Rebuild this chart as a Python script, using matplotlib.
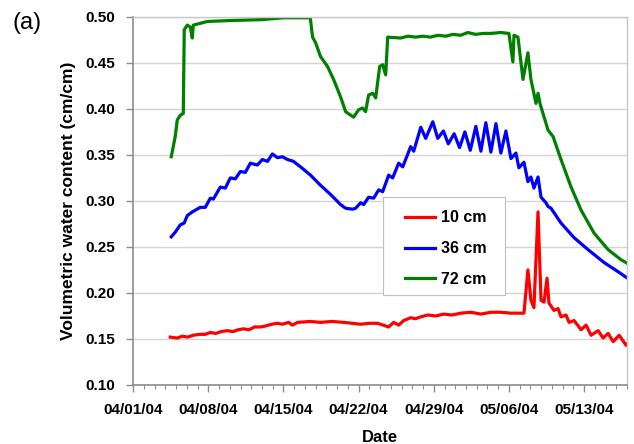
#!/usr/bin/env python

from datetime import datetime, timedelta
import matplotlib
matplotlib.use('Agg')
import matplotlib.pyplot as plt
import matplotlib.dates as mdates
from matplotlib.patches import Rectangle

START = datetime(2004, 4, 1)

# days after 04/01/04 and water content for each sensor depth
DAYS_10 = [3.45, 4.11, 4.6, 5.1, 5.6, 6.2, 6.7, 7.19, 7.7, 8.2, 8.77, 9.3, 9.8,
           10.27, 10.8, 11.3, 11.85, 12.3, 12.9, 13.44, 13.9, 14.47, 14.84,
           15.31, 16.5, 17.45, 18.5, 19.6, 20.4, 21.19, 22.0, 22.77, 23.3,
           23.8, 24.27, 24.73, 25.2, 25.85, 26.3, 26.79, 27.44, 28.2, 28.93,
           29.7, 30.52, 31.45, 32.4, 33.3, 34.25, 35.2, 36.4, 36.77, 37.05,
           37.33, 37.71, 37.99, 38.27, 38.55, 38.73, 39.2, 39.57, 39.85,
           40.32, 40.6, 41.07, 41.72, 42.19, 42.65, 43.31, 43.77, 44.24,
           44.71, 45.27, 45.92, 46.05]
VWC_10 = [0.152, 0.151, 0.153, 0.152, 0.154, 0.155, 0.155, 0.157, 0.156,
          0.158, 0.159, 0.158, 0.160, 0.161, 0.160, 0.163, 0.163, 0.164,
          0.166, 0.167, 0.166, 0.168, 0.165, 0.168, 0.169, 0.168, 0.169,
          0.168, 0.167, 0.166, 0.167, 0.167, 0.165, 0.163, 0.168, 0.165,
          0.170, 0.173, 0.172, 0.174, 0.176, 0.175, 0.177, 0.176, 0.178,
          0.179, 0.177, 0.179, 0.179, 0.178, 0.178, 0.225, 0.192, 0.184,
          0.288, 0.192, 0.190, 0.216, 0.189, 0.181, 0.183, 0.174, 0.176,
          0.168, 0.170, 0.160, 0.165, 0.154, 0.159, 0.151, 0.156, 0.147,
          0.154, 0.143, 0.145]

DAYS_36 = [3.55, 3.92, 4.39, 4.76, 5.04, 5.51, 5.8, 6.25, 6.72, 7.19, 7.47,
           8.12, 8.59, 9.05, 9.52, 9.99, 10.45, 10.92, 11.57, 12.04, 12.51,
           12.97, 13.44, 13.91, 14.37, 14.93, 15.59, 16.52, 17.45, 18.39,
           19.32, 19.79, 20.44, 20.72, 21.19, 21.47, 21.93, 22.4, 22.87, 23.24,
           23.8, 24.17, 24.73, 25.11, 25.85, 26.13, 26.79, 27.25, 27.91, 28.37,
           28.9, 29.35, 29.9, 30.4, 30.9, 31.4, 31.92, 32.39, 32.85, 33.32,
           33.79, 34.25, 34.72, 35.19, 35.65, 35.93, 36.4, 36.77, 37.05, 37.33,
           37.71, 37.99, 38.45, 38.64, 38.92, 39.85, 41.07, 42.37, 43.87,
           45.17, 46.05]
VWC_36 = [0.261, 0.266, 0.274, 0.276, 0.284, 0.288, 0.290, 0.293, 0.293,
          0.303, 0.302, 0.315, 0.314, 0.325, 0.324, 0.332, 0.331, 0.341,
          0.339, 0.345, 0.343, 0.351, 0.347, 0.348, 0.345, 0.343, 0.337,
          0.328, 0.317, 0.307, 0.296, 0.292, 0.291, 0.292, 0.298, 0.296,
          0.304, 0.303, 0.312, 0.310, 0.328, 0.325, 0.341, 0.337, 0.359,
          0.354, 0.380, 0.368, 0.386, 0.368, 0.376, 0.362, 0.373, 0.358,
          0.375, 0.355, 0.381, 0.354, 0.385, 0.353, 0.384, 0.352, 0.376,
          0.346, 0.352, 0.336, 0.342, 0.321, 0.326, 0.314, 0.326, 0.304,
          0.298, 0.294, 0.292, 0.276, 0.260, 0.247, 0.233, 0.223, 0.216]

DAYS_72 = [3.55, 3.92, 4.11, 4.39, 4.67, 4.76, 5.04, 5.32, 5.51, 5.6, 6.25,
           6.91, 9.0, 12.0, 14.0, 16.5, 16.71, 16.99, 17.45, 18.11, 18.67,
           19.32, 19.79, 20.53, 21.0, 21.37, 21.65, 21.93, 22.31, 22.59, 22.96,
           23.24, 23.52, 23.71, 24.9, 25.6, 26.3, 27.0, 27.7, 28.4, 29.1,
           29.8, 30.5, 31.17, 31.9, 32.6, 33.3, 34.25, 35.0, 35.37, 35.47,
           35.84, 36.31, 36.77, 37.05, 37.52, 37.71, 37.89, 38.64, 39.11,
           39.85, 40.79, 41.72, 42.93, 44.24, 45.45, 46.05]
VWC_72 = [0.348, 0.370, 0.388, 0.393, 0.395, 0.486, 0.491, 0.489, 0.477,
          0.491, 0.493, 0.495, 0.496, 0.497, 0.499, 0.499, 0.478, 0.472,
          0.457, 0.446, 0.432, 0.413, 0.397, 0.391, 0.399, 0.401, 0.397,
          0.415, 0.417, 0.412, 0.446, 0.448, 0.437, 0.478, 0.477, 0.479,
          0.478, 0.479, 0.478, 0.480, 0.479, 0.481, 0.480, 0.483, 0.481,
          0.482, 0.482, 0.483, 0.482, 0.451, 0.480, 0.478, 0.432, 0.461,
          0.432, 0.406, 0.417, 0.406, 0.377, 0.370, 0.345, 0.315, 0.290,
          0.265, 0.247, 0.236, 0.232]

SERIES = [('10 cm', DAYS_10, VWC_10, '#ff0000'),
          ('36 cm', DAYS_36, VWC_36, '#0000ff'),
          ('72 cm', DAYS_72, VWC_72, '#008000')]

Y_TICKS = [0.10, 0.15, 0.20, 0.25, 0.30, 0.35, 0.40, 0.45, 0.50]
WEEKS = [0, 7, 14, 21, 28, 35, 42]
LAST_DAY = 46


def to_dates(days):
	return [START + timedelta(days=d) for d in days]


def main():
	plt.rcParams['font.family'] = ['Liberation Sans', 'DejaVu Sans']
	fig = plt.figure(figsize=(6.34, 4.44), dpi=100)
	ax = fig.add_axes([0.21, 0.133, 0.779, 0.829])

	for label, days, vwc, color in SERIES:
		ax.plot(to_dates(days), vwc, color=color, lw=2.3, label=label,
				solid_joinstyle='round')

	ax.set_xlim(START, START + timedelta(days=LAST_DAY))
	ax.set_ylim(0.10, 0.50)
	ax.set_yticks(Y_TICKS)
	ax.set_xticks(to_dates(WEEKS))
	ax.set_xticks(to_dates(range(LAST_DAY + 1)), minor=True)
	ax.xaxis.set_major_formatter(mdates.DateFormatter('%m/%d/%y'))
	ax.yaxis.set_major_formatter(plt.FormatStrFormatter('%.2f'))

	ax.grid(axis='y', color='#d4d4d4', lw=1.0)
	ax.set_axisbelow(True)
	for side in ('left', 'bottom'):
		ax.spines[side].set_color('#8c8c8c')
		ax.spines[side].set_linewidth(1.2)
	for side in ('top', 'right'):
		ax.spines[side].set_color('#c8c8c8')
		ax.spines[side].set_linewidth(1.0)

	ax.tick_params(axis='both', which='major', labelsize=11, color='#8c8c8c',
				   length=5, width=1)
	ax.tick_params(axis='x', which='minor', color='#8c8c8c', length=3, width=0.8)
	ax.tick_params(axis='x', which='major', pad=8)
	ax.tick_params(axis='y', which='major', pad=8)
	for tick in ax.get_xticklabels() + ax.get_yticklabels():
		tick.set_fontweight('bold')

	ax.set_ylabel('Volumetric water content (cm/cm)', fontsize=12.5,
				  fontweight='bold', labelpad=7)
	ax.set_xlabel('Date', fontsize=12, fontweight='bold', labelpad=9)

	# legend box is drawn separately so it can be wider than its entries
	ax.add_patch(Rectangle((0.604, 0.3356), 0.1924, 0.2207,
						   transform=fig.transFigure, facecolor='white',
						   edgecolor='#c0c0c0', lw=0.8, zorder=4.5))
	ax.legend(loc='upper left', bbox_to_anchor=(0.6388, 0.526),
			  bbox_transform=fig.transFigure, borderaxespad=0, borderpad=0,
			  prop={'weight': 'bold', 'size': 11.5}, frameon=False,
			  labelspacing=0.98, handlelength=1.9, handletextpad=0.35)

	fig.text(0.019, 0.949, '(a)', fontsize=17, va='center', ha='left')

	fig.savefig('out.png', dpi=100)


if __name__ == '__main__':
	main()
